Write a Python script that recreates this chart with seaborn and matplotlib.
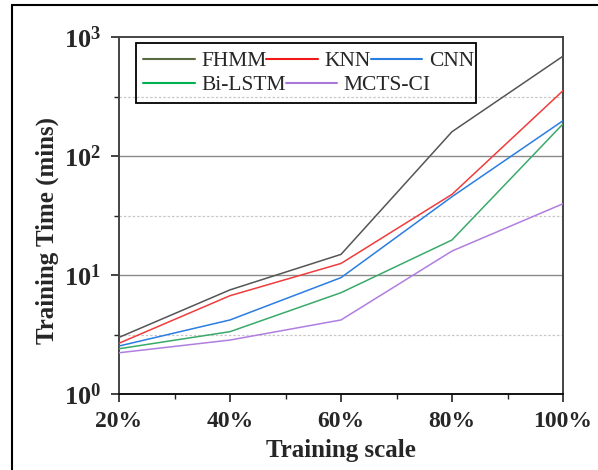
import matplotlib
matplotlib.use("Agg")
import matplotlib.pyplot as plt
from matplotlib.lines import Line2D
from matplotlib.patches import Rectangle
from matplotlib.ticker import FixedLocator, FuncFormatter, NullFormatter
import seaborn as sns
import pandas as pd
import numpy as np

# ---- data ----
scales = [20, 40, 60, 80, 100]
scale_labels = ["20%", "40%", "60%", "80%", "100%"]
fhmm = [2.99, 7.5, 14.9, 160, 690]
knn = [2.67, 6.7, 12.5, 47.6, 354]
cnn = [2.53, 4.19, 9.5, 45.5, 198]
bilstm = [2.40, 3.34, 7.1, 19.7, 186]
mcts = [2.22, 2.84, 4.19, 15.9, 39.7]
methods = ["FHMM", "KNN", "CNN", "Bi-LSTM", "MCTS-CI"]
series = [fhmm, knn, cnn, bilstm, mcts]
line_colors = ["#555555", "#f03c3c", "#2a7de1", "#3aaa6a", "#b07ee0"]
legend_colors = ["#5a6a40", "#f01818", "#2a7de1", "#00b050", "#a878d8"]

df = pd.DataFrame({
    "scale": np.tile(scales, len(methods)),
    "time": np.concatenate(series),
    "method": np.repeat(methods, len(scales)),
})

sns.set_theme(style="white")
plt.rcParams["font.family"] = ["Liberation Serif", "DejaVu Serif"]
plt.rcParams["mathtext.fontset"] = "custom"
plt.rcParams["mathtext.rm"] = "Liberation Serif:weight=bold"
plt.rcParams["mathtext.bf"] = "Liberation Serif:weight=bold"
plt.rcParams["mathtext.it"] = "Liberation Serif:weight=bold"
plt.rcParams["mathtext.default"] = "rm"

fig = plt.figure(figsize=(5.98, 4.70), dpi=100)
W, H = 598, 470
ax = fig.add_axes([119 / W, 1 - 394 / H, (563 - 119) / W, (394 - 37) / H])

sns.lineplot(data=df, x="scale", y="time", hue="method", hue_order=methods,
             palette=dict(zip(methods, line_colors)), linewidth=1.1,
             legend=False, ax=ax, zorder=3)

ax.set_yscale("log")
ax.set_ylim(1, 1000)
ax.set_xlim(20, 100)

# grid lines
for v in [10, 100]:
    ax.axhline(v, color="#8a8a8a", lw=1.0, zorder=1)
for v in [10 ** 0.5, 10 ** 1.5, 10 ** 2.5]:
    ax.axhline(v, color="#c8c8c8", lw=0.9, ls=(0, (2, 1.5)), zorder=1)

ax.yaxis.set_major_locator(FixedLocator([1, 10, 100, 1000]))
ax.yaxis.set_minor_locator(FixedLocator([10 ** 0.5, 10 ** 1.5, 10 ** 2.5]))
ax.yaxis.set_major_formatter(FuncFormatter(lambda v, p: r"$\mathbf{10^{%d}}$" % round(np.log10(v))))
ax.yaxis.set_minor_formatter(NullFormatter())

ax.set_xticks(scales)
ax.set_xticklabels(scale_labels)
ax.xaxis.set_minor_locator(FixedLocator([30, 50, 70, 90]))

ax.tick_params(axis="both", which="major", direction="out", length=6, width=1.2,
               color="#222222", left=True, bottom=True)
ax.tick_params(axis="both", which="minor", direction="out", length=3.5, width=1.0,
               color="#222222", left=True, bottom=True)
ax.tick_params(axis="x", which="major", pad=6, labelsize=17)
ax.tick_params(axis="y", which="major", pad=7, labelsize=19)
for lab in ax.get_xticklabels() + ax.get_yticklabels():
    lab.set_fontweight("bold")

for side in ["left", "top", "right"]:
    ax.spines[side].set_color("#444444")
    ax.spines[side].set_linewidth(1.4)
ax.spines["bottom"].set_color("#111111")
ax.spines["bottom"].set_linewidth(1.4)

ax.set_xlabel("Training scale", fontsize=18, fontweight="bold", labelpad=5)
ax.set_ylabel("Training Time (mins)", fontsize=18, fontweight="bold")
ax.yaxis.set_label_coords(-0.135, 0.459)

# legend (two flowing rows, one frame)
handles = [Line2D([], [], color=c, lw=1.5) for c in legend_colors]
common = dict(frameon=False, fontsize=15.5, handlelength=2.4, handletextpad=0.3,
              columnspacing=0.0, borderpad=0.0, borderaxespad=0.0,
              bbox_transform=fig.transFigure, loc="center left")
leg1 = ax.legend(handles[:3], methods[:3], ncol=3,
                 bbox_to_anchor=(143 / W, 1 - 61 / H), **common)
ax.add_artist(leg1)
leg2 = ax.legend(handles[3:], methods[3:], ncol=2,
                 bbox_to_anchor=(143 / W, 1 - 85 / H), **common)
fig.add_artist(Rectangle((136 / W, 1 - 103 / H), 340 / W, 60 / H, fill=False,
                         edgecolor="black", lw=1.3, transform=fig.transFigure))

# outer frame lines (left and top)
fig.add_artist(Line2D([12 / W, 12 / W], [0, 1 - 5 / H], color="black", lw=1.5,
                      transform=fig.transFigure))
fig.add_artist(Line2D([12 / W, 1], [1 - 5 / H, 1 - 5 / H], color="black", lw=1.5,
                      transform=fig.transFigure))

fig.savefig("out.png", dpi=100)
